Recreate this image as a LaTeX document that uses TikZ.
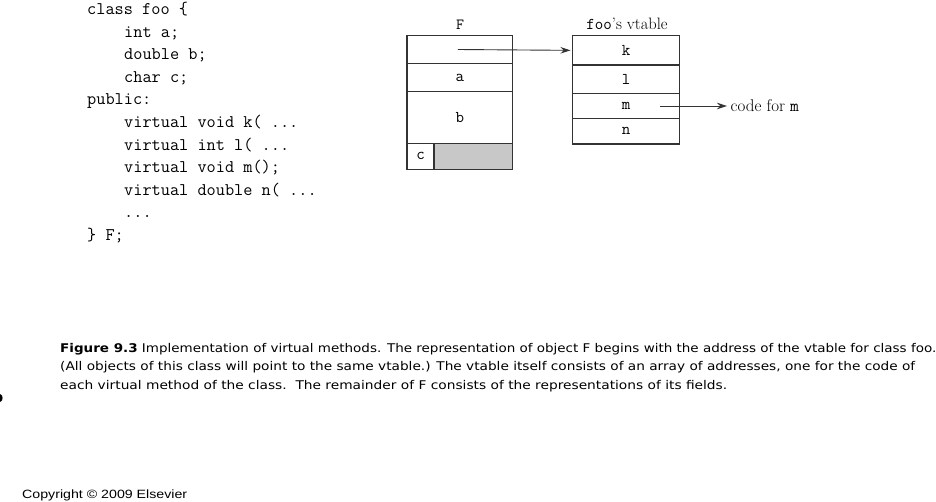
\documentclass[tikz,border=0pt]{standalone}
\usepackage{fontspec}
\usepackage{graphicx}
\newfontfamily\capfont{DejaVu Sans}
\newfontfamily\cpfont{Liberation Sans}
\usetikzlibrary{arrows.meta}
\definecolor{linegray}{HTML}{333333}
\definecolor{padgray}{HTML}{C8C8C8}
\begin{document}
\begin{tikzpicture}[x=1pt,y=-1pt,
  codeline/.style={anchor=base west,inner sep=0pt,font=\fontsize{17.8}{20}\ttfamily},
  cell/.style={draw=linegray,line width=1.4pt,inner sep=0pt,minimum width=#1,font=\fontsize{16.5}{18}\ttfamily},
  lbl/.style={inner sep=0pt,anchor=base,font=\fontsize{16.5}{18}\selectfont},
  ptr/.style={draw=linegray,line width=0.9pt,-{Stealth[length=10pt,width=6.5pt]}},
  capline/.style={anchor=base west,inner sep=0pt}]
\useasboundingbox (0,0) rectangle (936,501);
% code
\node[codeline] (c1) at (87,14.5) {class foo \{};
\node[codeline] (c2) at (124,37.1) {int a;};
\node[codeline] (c3) at (124,59.7) {double b;};
\node[codeline] (c4) at (124,82.3) {char c;};
\node[codeline] (c5) at (87,104.9) {public:};
\node[codeline] (c6) at (124,127.5) {virtual void k( ...};
\node[codeline] (c7) at (124,150.1) {virtual int l( ...};
\node[codeline] (c8) at (124,172.7) {virtual void m();};
\node[codeline] (c9) at (124,195.3) {virtual double n( ...};
\node[codeline] (c10) at (124,217.9) {...};
\node[codeline] (c11) at (87,240.5) {\} F;};
% object F
\node[cell=105.7pt,minimum height=27.6pt] (fptr) at (459.85,49.5) {};
\node[cell=105.7pt,minimum height=28.4pt] (fa) at (459.85,77.5) {a};
\node[cell=105.7pt,minimum height=51.6pt] (fb) at (459.85,117.5) {b};
\node[cell=27pt,minimum height=26pt] (fc) at (420.5,156.3) {c};
\node[cell=78.7pt,minimum height=26pt,fill=padgray] (fpad) at (473.35,156.3) {};
\node[lbl,font=\fontsize{15.5}{18}\ttfamily] (flabel) at (460,29) {F};
% vtable
\node[cell=106.6pt,minimum height=29.3pt] (vk) at (626,50.35) {k};
\node[cell=106.6pt,minimum height=28.3pt] (vl) at (626,79.15) {l};
\node[cell=106.6pt,minimum height=25pt] (vm) at (626,105.8) {m};
\node[cell=106.6pt,minimum height=25.7pt] (vn) at (626,131.15) {n};
\node[lbl] (vlabel) at (627,29) {{\ttfamily foo}'s vtable};
% code for m
\node[inner sep=0pt,anchor=west,font=\fontsize{17}{18}\selectfont] (code) at (730.5,106) {code for {\ttfamily m}};
\coordinate (mstart) at (660,106);
\draw[ptr] ([xshift=-2pt]fptr.center) -- ([xshift=-1.5pt]vk.west);
\draw[ptr,shorten >=3.5pt] (mstart) -- (code.west);
% caption
\node[capline] (cap1) at (60,352.5) {\resizebox{876pt}{\height}{\capfont\fontsize{12}{13}\selectfont\textbf{Figure 9.3} Implementation of virtual methods. The representation of object F begins with the address of the vtable for class foo.}};
\node[capline] (cap2) at (60,370.8) {\resizebox{855pt}{\height}{\capfont\fontsize{12}{13}\selectfont (All objects of this class will point to the same vtable.) The vtable itself consists of an array of addresses, one for the code of}};
\node[capline] (cap3) at (60,389) {\resizebox{667pt}{\height}{\capfont\fontsize{12}{13}\selectfont each virtual method of the class.\ \ The remainder of F consists of the representations of its fields.}};
\fill (0,394) .. controls (3.5,395) and (3.5,401) .. (0,402) -- cycle;
\node[capline] (copy) at (22,498) {\resizebox{165pt}{\height}{\cpfont\fontsize{12}{14}\selectfont Copyright \textcopyright{} 2009 Elsevier}};
\end{tikzpicture}
\end{document}
